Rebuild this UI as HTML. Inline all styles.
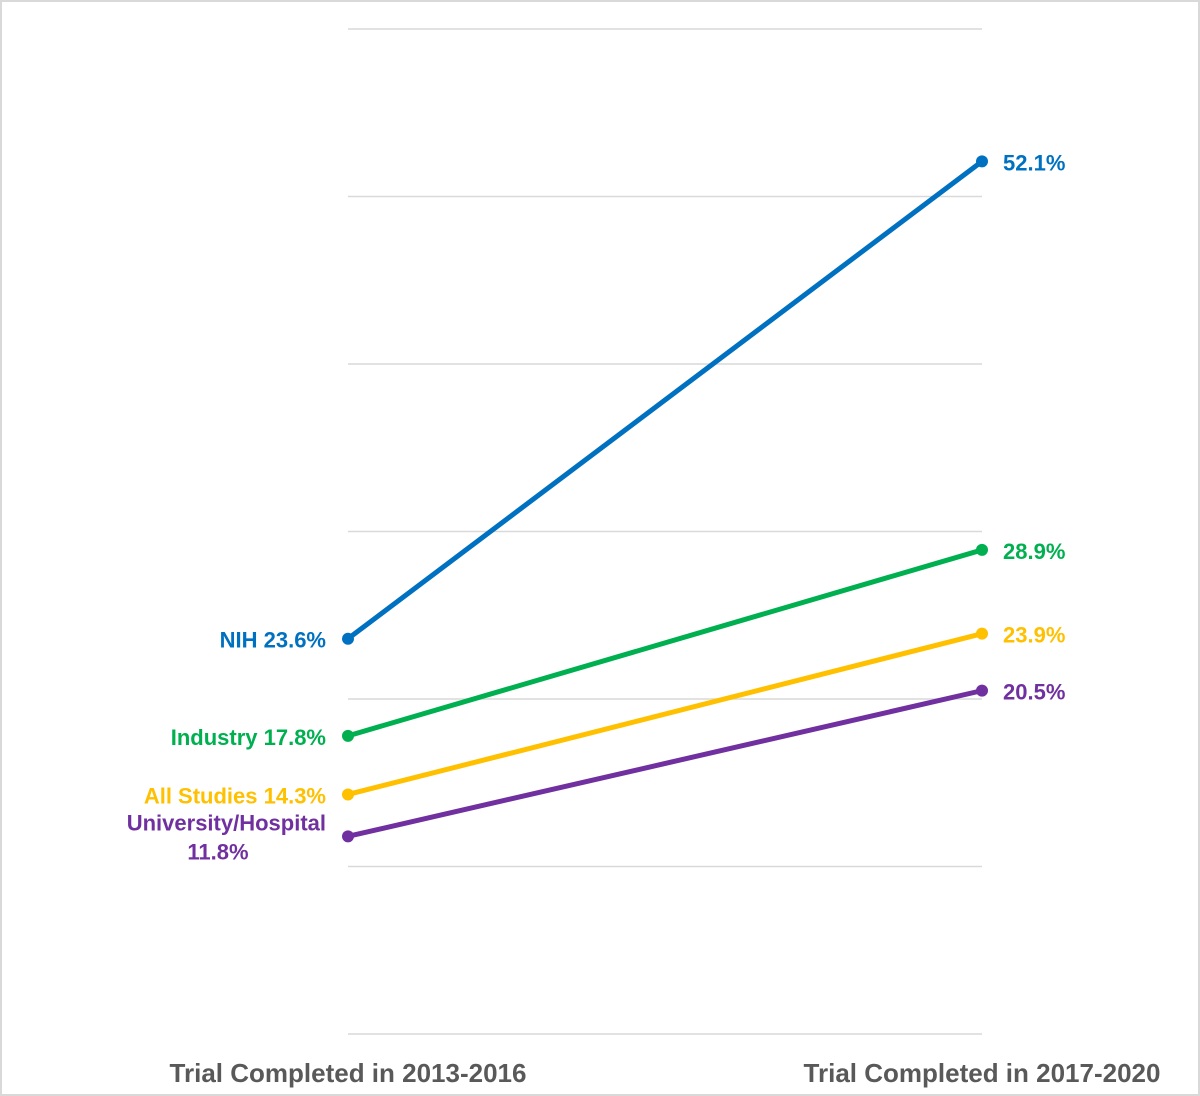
<!DOCTYPE html>
<html><head><meta charset="utf-8"><style>
body{margin:0;background:#fff;}
svg{display:block;font-family:"Liberation Sans",sans-serif;font-weight:bold;}
</style></head><body>
<svg id="chart" width="1200" height="1096" viewBox="0 0 1200 1096">
<rect x="1" y="1" width="1198" height="1094" fill="#fff" stroke="#d9d9d9" stroke-width="2"/>
<g id="grid"></g>
<g id="series"></g>
<text x="348" y="1082" font-size="26" fill="#595959" text-anchor="middle">Trial Completed in 2013-2016</text>
<text x="982" y="1082" font-size="26" fill="#595959" text-anchor="middle">Trial Completed in 2017-2020</text>
</svg>
<script>
const categories = ["Trial Completed in 2013-2016","Trial Completed in 2017-2020"];
const seriesNames = ["NIH","Industry","All Studies","University/Hospital"];
const startValues = [23.6,17.8,14.3,11.8];
const endValues = [52.1,28.9,23.9,20.5];
const gridTicks = [0,10,20,30,40,50,60];
const colors = ["#0070c0","#00b050","#ffc000","#7030a0"];
const ns="http://www.w3.org/2000/svg";
const x0=348,x1=982;
function y(v){return 1034 - v*(1005/60);}
function mk(tag,attrs,parent){const e=document.createElementNS(ns,tag);for(const k in attrs)e.setAttribute(k,attrs[k]);parent.appendChild(e);return e;}
const grid=document.getElementById('grid');
gridTicks.forEach(t=>{
  const l=mk('line',{x1:x0,x2:x1,y1:y(t),y2:y(t),stroke:'#d9d9d9','stroke-width':1.5},grid);
  
  
});
const sg=document.getElementById('series');
seriesNames.forEach((n,i)=>{
  const slug=n.toLowerCase().replace(/[^a-z]+/g,'-');
  const g=mk('g',{},sg);
  
  
  const ln=mk('line',{x1:x0,y1:y(startValues[i]),x2:x1,y2:y(endValues[i]),stroke:colors[i],'stroke-width':5},g);
  
  
  [[x0,startValues[i],'start'],[x1,endValues[i],'end']].forEach(p=>{
    const c=mk('circle',{cx:p[0],cy:y(p[1]),r:6,fill:colors[i]},g);
    
    
  });
  const yl=y(startValues[i]);
  if(n==="University/Hospital"){
    const t=mk('text',{x:326,y:yl-6,'font-size':22,fill:colors[i],'text-anchor':'end'},g);
    t.textContent=n;
    
    
    const t2=mk('text',{x:218,y:yl+23,'font-size':22,fill:colors[i],'text-anchor':'middle'},g);
    t2.textContent=startValues[i].toFixed(1)+'%';
    
    
  } else {
    const t=mk('text',{x:326,y:yl+9,'font-size':22,fill:colors[i],'text-anchor':'end'},g);
    t.textContent=n+' '+startValues[i].toFixed(1)+'%';
    
    
  }
  const te=mk('text',{x:1003,y:y(endValues[i])+9,'font-size':22,fill:colors[i]},g);
  te.textContent=endValues[i].toFixed(1)+'%';
  
  
});
</script>
</body></html>
